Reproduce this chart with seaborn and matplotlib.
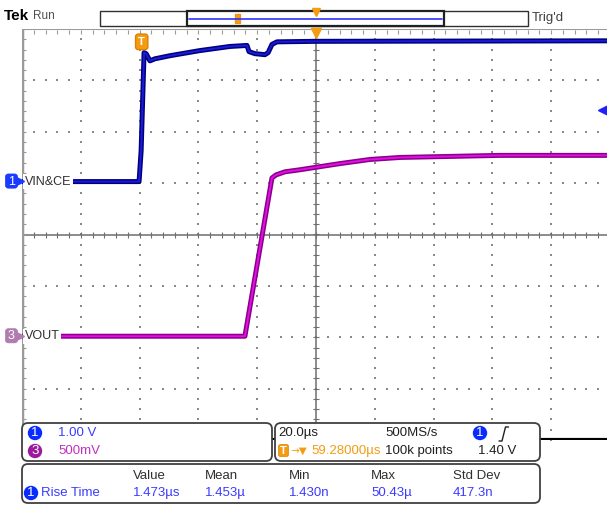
import numpy as np
import pandas as pd
import matplotlib
matplotlib.use('Agg')
import matplotlib.pyplot as plt
from matplotlib.patches import FancyBboxPatch, Rectangle, Circle
import seaborn as sns

# ---- waveform data (time in us relative to trigger, volts) ----
ch1_time = [-40.7, -0.9, -0.2, 0.8, 1.5, 2.8, 4.5, 9.6, 19.8, 30.0, 35.8, 36.5, 38.5, 41.9, 43.0, 44.3, 46.0, 59.3, 158.3]
ch1_volt = [0.00, 0.00, 0.60, 2.51, 2.49, 2.35, 2.39, 2.45, 2.55, 2.63, 2.65, 2.53, 2.49, 2.47, 2.51, 2.67, 2.72, 2.73, 2.74]
ch3_time = [-40.7, 35.1, 44.3, 45.7, 48.7, 53.8, 60.6, 67.4, 77.6, 87.9, 104.9, 121.9, 158.3]
ch3_volt = [0.00, 0.00, 1.54, 1.57, 1.60, 1.62, 1.65, 1.68, 1.72, 1.74, 1.75, 1.76, 1.76]

ch1_scale, ch1_offset = 1.00, 1.03     # V/div, ground position in divisions
ch3_scale, ch3_offset = 0.50, -1.98
time_per_div = 20.0
center_time = 59.28
trig_level = 1.40

meas_headers = ['Value', 'Mean', 'Min', 'Max', 'Std Dev']
meas_values = ['1.473\u00b5s', '1.453\u00b5', '1.430n', '50.43\u00b5', '417.3n']

sns.set_style('white')
plt.rcParams['font.family'] = ['Liberation Sans', 'DejaVu Sans']

W, H = 607, 505
fig = plt.figure(figsize=(W / 100, H / 100), dpi=100)
fig.patch.set_facecolor('white')

# graticule area in pixels: x 22..610, y 29..440
left_px, top_px, bot_px = 22, 29, 440
div_px = 58.8
ax = fig.add_axes([left_px / W, (H - bot_px) / H, (W - left_px) / W, (bot_px - top_px) / H])
xmax = center_time + time_per_div * (W - 316) / div_px
ax.set_xlim(center_time - 5 * time_per_div, xmax)
ax.set_ylim(-4, 4)
for s in ax.spines.values():
    s.set_visible(False)
ax.set_xticks([])
ax.set_yticks([])

grid_c = '#8a8a8a'
# dotted division grid
ys = np.arange(-4, 4.001, 0.2)
for k in range(-4, 5):
    if k == 0:
        continue
    ax.scatter(np.full(ys.size, center_time + k * time_per_div), ys, s=1.2, marker='s', color=grid_c, lw=0, zorder=1)
xs = center_time + time_per_div * np.arange(-5, 5.01, 0.2)
for j in range(-3, 4):
    if j == 0:
        continue
    ax.scatter(xs, np.full(xs.size, j), s=1.2, marker='s', color=grid_c, lw=0, zorder=1)

# center cross with minor ticks
ax.axhline(0, color='#6e6e6e', lw=1.1, zorder=1)
ax.axvline(center_time, color='#6e6e6e', lw=1.1, zorder=1)
ax.scatter(xs, np.zeros(xs.size), marker='|', s=14, color='#6e6e6e', lw=0.8, zorder=1)
ax.scatter(np.full(ys.size, center_time), ys, marker='_', s=14, color='#6e6e6e', lw=0.8, zorder=1)

# borders
ax.axvline(ax.get_xlim()[0], color='#9a9a9a', lw=2.5, zorder=1)
ax.axhline(4, color='#9a9a9a', lw=1.5, zorder=1)
ax.scatter(xs, np.full(xs.size, 3.95), marker='|', s=10, color='#9a9a9a', lw=0.8, zorder=1)
ax.scatter(np.full(ys.size, ax.get_xlim()[0] + 0.6), ys, marker='_', s=6, color='#9a9a9a', lw=0.8, zorder=1)
ax.axhline(-4, color='black', lw=3, zorder=1)

# traces
ch1 = pd.DataFrame({'t': ch1_time, 'div': np.array(ch1_volt) / ch1_scale + ch1_offset})
ch3 = pd.DataFrame({'t': ch3_time, 'div': np.array(ch3_volt) / ch3_scale + ch3_offset})
sns.lineplot(data=ch1, x='t', y='div', ax=ax, color='#00007c', lw=3.6, sort=False, estimator=None, zorder=3)
sns.lineplot(data=ch1, x='t', y='div', ax=ax, color='#1a1ad8', lw=1.4, sort=False, estimator=None, zorder=4)
sns.lineplot(data=ch3, x='t', y='div', ax=ax, color='#8a008a', lw=3.6, sort=False, estimator=None, zorder=3)
sns.lineplot(data=ch3, x='t', y='div', ax=ax, color='#e010e0', lw=1.4, sort=False, estimator=None, zorder=4)
ax.set_xlabel('')
ax.set_ylabel('')

# channel labels
x0 = ax.get_xlim()[0] + 0.9
ax.text(x0, ch1_offset, 'VIN&CE', fontsize=9, color='#303030', va='center', ha='left', zorder=6,
        bbox=dict(fc='white', ec='none', pad=1.2))
ax.text(x0, ch3_offset, 'VOUT', fontsize=9, color='#303030', va='center', ha='left', zorder=6,
        bbox=dict(fc='white', ec='none', pad=1.2))

# trigger marker, expansion point, trigger level
ax.text(0, 3.75, 'T', fontsize=8, fontweight='bold', color='white', ha='center', va='center', zorder=7,
        bbox=dict(boxstyle='round,pad=0.25', fc='#f39c12', ec='#e08000'))
ax.plot([center_time], [3.93], marker='v', ms=7, color='#f39c12', clip_on=False, zorder=7)
ax.plot([xmax - 1.2], [trig_level / ch1_scale + ch1_offset], marker='<', ms=7, color='#2020ff', clip_on=False, zorder=7)

# ---------------- overlay (screen chrome) ----------------
ov = fig.add_axes([0, 0, 1, 1], zorder=10)
ov.set_xlim(0, W)
ov.set_ylim(H, 0)
ov.axis('off')
ov.patch.set_alpha(0)

ov.text(4, 16, 'Tek', fontsize=11, fontweight='bold', color='black', va='center')
ov.text(33, 16, 'Run', fontsize=8.5, color='#505050', va='center')
ov.add_patch(Rectangle((100, 11), 428, 15, fc='white', ec='#303030', lw=1))
ov.add_patch(Rectangle((187, 11), 257, 15, fc='white', ec='#202020', lw=1.6))
ov.plot([189, 442], [18.5, 18.5], color='#3030ff', lw=1.2)
ov.add_patch(FancyBboxPatch((236, 15), 4, 8, boxstyle='round,pad=0.8', fc='#f39c12', ec='#e08000', lw=0.5))
ov.plot([316], [12], marker='v', ms=6, color='#f39c12')
ov.text(532, 18, "Trig'd", fontsize=9.5, color='#404040', va='center')

# ground markers
def gnd_marker(y, label, fc):
    ov.add_patch(FancyBboxPatch((6, y - 6.5), 11, 13, boxstyle='round,pad=0.6,rounding_size=3', fc=fc, ec=fc, lw=0.5))
    ov.plot([18.5], [y], marker='>', ms=7, color=fc)
    ov.text(11.5, y + 0.5, label, fontsize=9, color='white', ha='center', va='center')

gnd_marker(234 - ch1_offset * 51.4, '1', '#1a3bff')
gnd_marker(234 - ch3_offset * 51.4, '3', '#b07cb0')

# bottom panels
def panel(x, y, w, h):
    ov.add_patch(FancyBboxPatch((x, y), w, h, boxstyle='round,pad=0,rounding_size=6', fc='white', ec='#404040', lw=1.3))

def badge(x, y, label, fc):
    ov.add_patch(Circle((x, y), 7.2, fc=fc, ec='none'))
    ov.text(x, y + 0.5, label, fontsize=9.5, color='white', ha='center', va='center')

blue_txt = '#3b3bff'
fs = 9.5
panel(22, 423, 250, 38)
badge(35, 433, '1', '#0a2bff')
ov.text(58, 433, '1.00 V', fontsize=fs, color=blue_txt, va='center')
badge(35, 451, '3', '#9c1a9c')
ov.text(58, 451, '500mV', fontsize=fs, color='#c030c0', va='center')

panel(275, 423, 265, 38)
ov.text(278, 433, '20.0\u00b5s', fontsize=fs, color='#202020', va='center')
ov.text(385, 433, '500MS/s', fontsize=fs, color='#202020', va='center')
badge(480, 433, '1', '#0a2bff')
ov.plot([499, 502, 505.5, 508.5], [441, 441, 427, 427], color='#202020', lw=1)
ov.add_patch(FancyBboxPatch((279, 445), 9, 11, boxstyle='round,pad=0.5,rounding_size=2', fc='#f39c12', ec='#e08000', lw=0.5))
ov.text(283.5, 451, 'T', fontsize=8, color='white', ha='center', va='center', fontweight='bold')
ov.text(290, 451, '\u2192\u25bc', fontsize=7.5, color='#f39c12', va='center', family=['DejaVu Sans'])
ov.text(311, 451, '59.28000\u00b5s', fontsize=fs, color='#f39c12', va='center')
ov.text(385, 451, '100k points', fontsize=fs, color='#202020', va='center')
ov.text(478, 451, '%.2f V' % trig_level, fontsize=fs, color='#202020', va='center')

panel(22, 464, 518, 39)
for i, (hd, val) in enumerate(zip(meas_headers, meas_values)):
    xp = [133, 205, 289, 371, 453][i]
    ov.text(xp, 476, hd, fontsize=fs, color='#303030', va='center')
    ov.text(xp, 493, val, fontsize=fs, color=blue_txt, va='center')
badge(31, 493, '1', '#0a2bff')
ov.text(41, 493, 'Rise Time', fontsize=fs, color=blue_txt, va='center')

fig.savefig('out.png', dpi=100, facecolor='white')
